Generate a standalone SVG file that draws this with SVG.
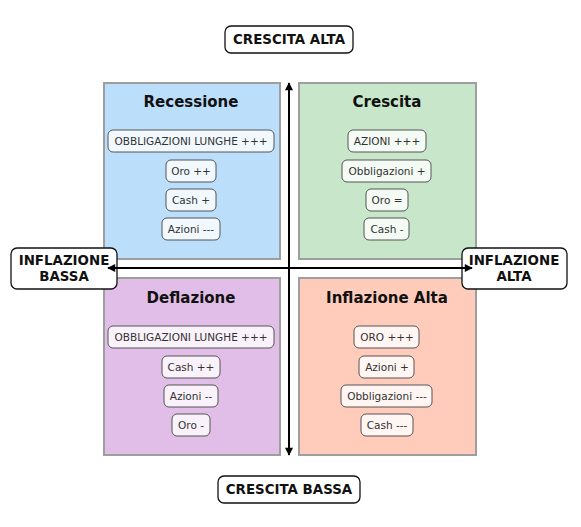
<svg xmlns="http://www.w3.org/2000/svg" width="581" height="527" viewBox="0 0 581 527">
<style>
.q{stroke:#9e9e9e;stroke-width:2}
.t{font-family:"DejaVu Sans",sans-serif;font-weight:bold;font-size:15px;fill:#111;text-anchor:middle}
.ib{fill:#ffffff;fill-opacity:0.8;stroke:#555;stroke-width:1}
.it{font-family:"DejaVu Sans",sans-serif;font-size:10.5px;fill:#333;text-anchor:middle}
.lb{fill:#fff;stroke:#111;stroke-width:1.3}
.lt{font-family:"DejaVu Sans",sans-serif;font-weight:bold;font-size:13.4px;fill:#111;text-anchor:middle}
.ax{stroke:#000;stroke-width:2;fill:none}
</style>
<defs>
<marker id="ah" viewBox="0 0 10 10" refX="9" refY="5" markerWidth="4.5" markerHeight="4" orient="auto-start-reverse" markerUnits="strokeWidth">
<path d="M0,0 L10,5 L0,10 z" fill="#000"/>
</marker>
</defs>
<rect width="581" height="527" fill="#fff"/>
<g id="recessione">
<rect class="q" x="104" y="83" width="176" height="176" fill="#bbdefb"/>
<text class="t" x="191" y="107">Recessione</text>
<rect class="ib" x="108" y="130" width="166" height="22" rx="5"/><text class="it" x="191" y="145">OBBLIGAZIONI LUNGHE +++</text>
<rect class="ib" x="166" y="160" width="50" height="22" rx="5"/><text class="it" x="191" y="175">Oro ++</text>
<rect class="ib" x="166" y="189" width="50" height="22" rx="5"/><text class="it" x="191" y="204">Cash +</text>
<rect class="ib" x="162" y="218" width="58" height="22" rx="5"/><text class="it" x="191" y="233">Azioni ---</text>
</g>
<g id="crescita">
<rect class="q" x="299" y="83" width="177" height="176" fill="#c8e6c9"/>
<text class="t" x="387" y="107">Crescita</text>
<rect class="ib" x="348" y="130" width="78" height="22" rx="5"/><text class="it" x="387" y="145">AZIONI +++</text>
<rect class="ib" x="342" y="160" width="89" height="22" rx="5"/><text class="it" x="387" y="175">Obbligazioni +</text>
<rect class="ib" x="366" y="189" width="42" height="22" rx="5"/><text class="it" x="387" y="204">Oro =</text>
<rect class="ib" x="364" y="218" width="45" height="22" rx="5"/><text class="it" x="387" y="233">Cash -</text>
</g>
<g id="deflazione">
<rect class="q" x="104" y="278" width="176" height="177" fill="#e1bee7"/>
<text class="t" x="191" y="303">Deflazione</text>
<rect class="ib" x="108" y="326" width="166" height="22" rx="5"/><text class="it" x="191" y="341">OBBLIGAZIONI LUNGHE +++</text>
<rect class="ib" x="162" y="356" width="58" height="22" rx="5"/><text class="it" x="191" y="371">Cash ++</text>
<rect class="ib" x="164" y="385" width="54" height="22" rx="5"/><text class="it" x="191" y="400">Azioni --</text>
<rect class="ib" x="172" y="414" width="38" height="22" rx="5"/><text class="it" x="191" y="429">Oro -</text>
</g>
<g id="inflazione-alta">
<rect class="q" x="299" y="278" width="177" height="177" fill="#ffccbc"/>
<text class="t" x="387" y="303">Inflazione Alta</text>
<rect class="ib" x="354" y="326" width="65" height="22" rx="5"/><text class="it" x="387" y="341">ORO +++</text>
<rect class="ib" x="359" y="356" width="55" height="22" rx="5"/><text class="it" x="387" y="371">Azioni +</text>
<rect class="ib" x="341" y="385" width="91" height="22" rx="5"/><text class="it" x="387" y="400">Obbligazioni ---</text>
<rect class="ib" x="361" y="414" width="52" height="22" rx="5"/><text class="it" x="387" y="429">Cash ---</text>
</g>
<g id="crescita-alta">
<rect class="lb" x="225" y="26" width="128" height="27" rx="6"/>
<text class="lt" x="289" y="44">CRESCITA ALTA</text>
</g>
<g id="crescita-bassa">
<rect class="lb" x="218" y="476" width="142" height="27" rx="6"/>
<text class="lt" x="289" y="494">CRESCITA BASSA</text>
</g>
<g id="inflazione-bassa">
<rect class="lb" x="11" y="248" width="106" height="41" rx="6"/>
<text class="lt" x="64" y="265">INFLAZIONE</text>
<text class="lt" x="64" y="281">BASSA</text>
</g>
<g id="inflazione-alta-label">
<rect class="lb" x="462" y="248" width="105" height="41" rx="6"/>
<text class="lt" x="514" y="265">INFLAZIONE</text>
<text class="lt" x="514" y="281">ALTA</text>
</g>
<g id="connectors">
<line class="ax" x1="289" y1="455" x2="289" y2="83" marker-start="url(#ah)" marker-end="url(#ah)"/>
<line class="ax" x1="108" y1="268" x2="472" y2="268" marker-start="url(#ah)" marker-end="url(#ah)"/>
</g>
</svg>
